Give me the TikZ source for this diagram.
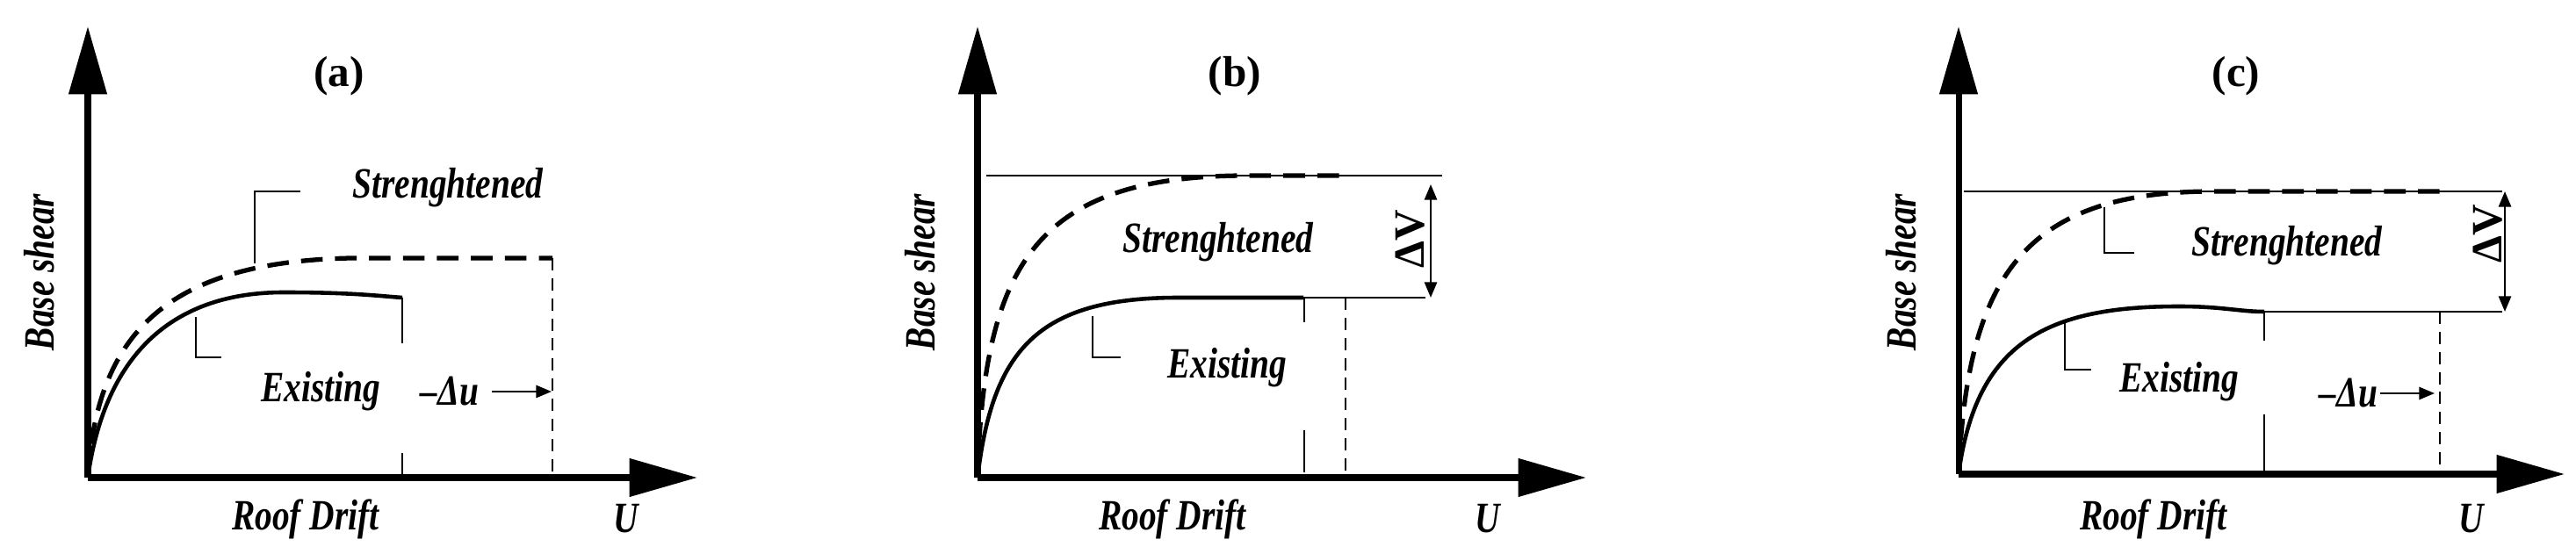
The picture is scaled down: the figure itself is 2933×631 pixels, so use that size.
\documentclass[tikz,border=0pt]{standalone}
\usepackage{fontspec}
\setmainfont{Liberation Serif}
\usetikzlibrary{arrows.meta}
\newcommand{\sq}[1]{\scalebox{0.8}[1]{#1}}
\begin{document}
\begin{tikzpicture}[x=0.01cm,y=-0.01cm,
  axis/.style={line width=2pt,-{Triangle[length=22pt,width=12pt]}},
  exist/.style={line width=1.3pt},
  stren/.style={line width=1.5pt,dash pattern=on 7pt off 4pt},
  thin/.style={line width=0.5pt},
  vdash/.style={line width=0.5pt,dash pattern=on 4pt off 2.5pt},
  lab/.style={font=\fontsize{14}{16}\selectfont\bfseries\itshape},
  ttl/.style={font=\fontsize{14}{16}\selectfont\bfseries},
  dv/.style={line width=0.7pt,{Triangle[length=5pt,width=4pt]}-{Triangle[length=5pt,width=4pt]}},
  da/.style={line width=0.7pt,-{Triangle[length=5pt,width=4pt]}}]
\useasboundingbox (0,0) rectangle (2933,631);
% ---------- (a)
\coordinate (Oa) at (100,544);
\coordinate (Ya) at (100,30);
\coordinate (Xa) at (794,544);
\draw[axis] (Oa) -- (Ya);
\draw[axis] (Oa) -- (Xa);
\node[ttl] (ta) at (386,87) {(a)};
\node[lab,rotate=90] (ba) at (45,310) {\sq{Base shear}};
\node[lab] (ra) at (348,591) {\sq{Roof Drift}};
\node[lab] (ua) at (713,591) {\sq{U}};
\draw[stren] (Oa) .. controls (110,380) and (190,298) .. (400,294) -- (629,294);
\draw[exist] (Oa) .. controls (120,400) and (200,333) .. (323,333) .. controls (400,333) and (430,337) .. (458,339);
\draw[vdash] (629,294) -- (629,544);
\draw[thin] (458,339) -- (458,391);
\draw[thin] (458,516) -- (458,544);
\draw[thin] (290,300) -- (290,218) -- (342,218);
\node[lab] (sa) at (510,214) {\sq{Strenghtened}};
\draw[thin] (223,361) -- (223,407) -- (252,407);
\node[lab] (ea) at (365,446) {\sq{Existing}};
\node[lab] (dua) at (512,446) {\sq{–Δu}};
\coordinate (dua1) at (560,446); \coordinate (dua2) at (628,446);
\draw[da] (dua1) -- (dua2);
% ---------- (b)
\coordinate (Ob) at (1113,544);
\draw[axis] (Ob) -- (1113,30);
\draw[axis] (Ob) -- (1806,544);
\node[ttl] (tb) at (1406,87) {(b)};
\node[lab,rotate=90] (bb) at (1048,310) {\sq{Base shear}};
\node[lab] (rb) at (1335,591) {\sq{Roof Drift}};
\node[lab] (ub) at (1694,591) {\sq{U}};
\draw[thin] (1123,200) -- (1642,200);
\draw[stren] (Ob) .. controls (1120,300) and (1180,200) .. (1420,200) -- (1529,200);
\draw[exist] (Ob) .. controls (1130,400) and (1180,339) .. (1342,339) -- (1484,339);
\draw[thin] (1484,339) -- (1623,339);
\coordinate (dvb1) at (1629,210); \coordinate (dvb2) at (1629,339);
\draw[dv] (dvb1) -- (dvb2);
\node[rotate=90,font=\fontsize{14}{16}\selectfont\bfseries] (dvb) at (1606,272) {ΔV};
\draw[thin] (1485,339) -- (1485,367);
\draw[thin] (1485,490) -- (1485,538);
\draw[vdash] (1532,339) -- (1532,544);
\draw[thin] (1244,360) -- (1244,407) -- (1276,407);
\node[lab] (sb) at (1387,276) {\sq{Strenghtened}};
\node[lab] (eb) at (1397,419) {\sq{Existing}};
% ---------- (c)
\coordinate (Oc) at (2230,540);
\draw[axis] (Oc) -- (2230,30);
\draw[axis] (Oc) -- (2920,540);
\node[ttl] (tc) at (2546,87) {(c)};
\node[lab,rotate=90] (bc) at (2165,310) {\sq{Base shear}};
\node[lab] (rc) at (2452,591) {\sq{Roof Drift}};
\node[lab] (uc) at (2814,591) {\sq{U}};
\draw[thin] (2236,218) -- (2849,218);
\draw[stren] (Oc) .. controls (2240,320) and (2300,218) .. (2520,218) -- (2785,218);
\draw[exist] (Oc) .. controls (2250,390) and (2330,349) .. (2481,349) .. controls (2530,349) and (2550,355) .. (2578,355);
\draw[thin] (2578,355) -- (2849,355);
\coordinate (dvc1) at (2852,218); \coordinate (dvc2) at (2852,355);
\draw[dv] (dvc1) -- (dvc2);
\node[rotate=90,font=\fontsize{14}{16}\selectfont\bfseries] (dvc) at (2833,266) {ΔV};
\draw[thin] (2578,355) -- (2578,388);
\draw[thin] (2578,472) -- (2578,540);
\draw[vdash] (2778,355) -- (2778,540);
\draw[thin] (2396,236) -- (2396,288) -- (2430,288);
\draw[thin] (2351,368) -- (2351,421) -- (2381,421);
\node[lab] (sc) at (2604,280) {\sq{Strenghtened}};
\node[lab] (ec) at (2481,435) {\sq{Existing}};
\node[lab] (duc) at (2674,448) {\sq{–Δu}};
\coordinate (duc1) at (2710,448); \coordinate (duc2) at (2772,448);
\draw[da] (duc1) -- (duc2);
\end{tikzpicture}
\end{document}
